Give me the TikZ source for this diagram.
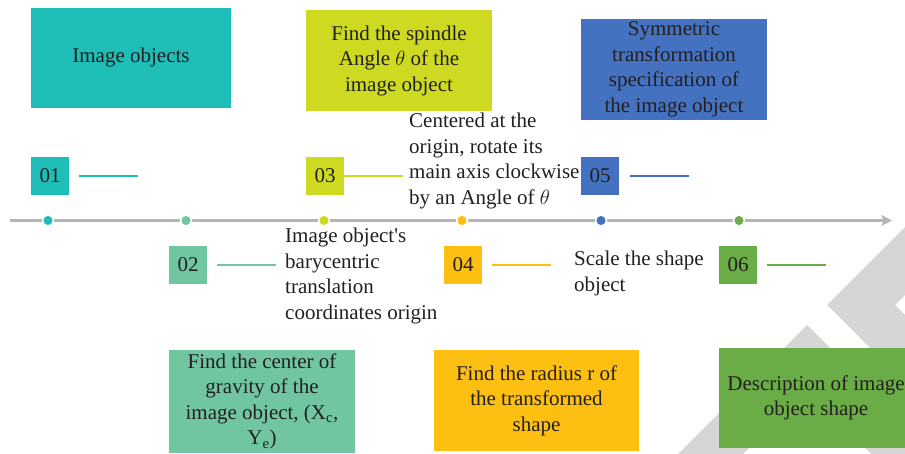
\documentclass[tikz,border=0pt]{standalone}
\usepackage{fontspec}
\setmainfont{Liberation Serif}
\usepackage{tikz}
\usetikzlibrary{arrows.meta}

\definecolor{cOne}{RGB}{31,189,183}
\definecolor{cTwo}{RGB}{113,198,162}
\definecolor{cThree}{RGB}{206,218,34}
\definecolor{cFour}{RGB}{252,191,18}
\definecolor{cFive}{RGB}{68,114,192}
\definecolor{cSix}{RGB}{106,172,70}
\definecolor{inkgray}{RGB}{35,31,32}
\definecolor{linegray}{RGB}{181,181,181}
\definecolor{chevgray}{RGB}{214,214,214}

\tikzset{
  bigbox/.style={rectangle, inner sep=2pt, align=center, text=inkgray,
    font=\fontsize{21}{25.5}\selectfont},
  numbox/.style={rectangle, minimum width=38pt, minimum height=38pt,
    inner sep=0pt, text=inkgray, font=\fontsize{21}{25.5}\selectfont},
  note/.style={anchor=north west, align=left, inner sep=0pt, text=inkgray,
    font=\fontsize{21}{25.5}\selectfont},
  leader/.style={line width=1.6pt},
}

\begin{document}
\begin{tikzpicture}[x=1pt,y=-1pt]
  \useasboundingbox (0,0) rectangle (905,453);
  \clip (0,0) rectangle (905,453);

  % background chevrons
  \fill[chevgray] (960,172) -- (827,305) -- (960,438) -- (960,370) -- (895,305) -- (960,240) -- cycle;
  \fill[chevgray] (670,462) -- (807,325) -- (944,462) -- (879,462) -- (807,390) -- (735,462) -- cycle;

  % time line
  \coordinate (start) at (10,220.5);
  \coordinate (end) at (892,220.5);
  \draw[line width=2.7pt, linegray, -{Stealth[length=11pt,width=11pt,inset=3pt]}] (start) -- (end);

  \coordinate (d1) at (48,220.5);
  \coordinate (d2) at (186,220.5);
  \coordinate (d3) at (324,220.5);
  \coordinate (d4) at (462,220.5);
  \coordinate (d5) at (601,220.5);
  \coordinate (d6) at (739,220.5);

  % upper row
  \node[bigbox, fill=cOne, minimum width=200pt, minimum height=100pt] (b1) at (131,57.5) {Image objects};
  \node[bigbox, fill=cThree, minimum width=186pt, minimum height=101pt] (b3) at (399,60.5)
    {Find the spindle\\ Angle $\theta$ of the\\ image object};
  \node[bigbox, fill=cFive, minimum width=186pt, minimum height=101pt] (b5) at (674,69.5)
    {Symmetric\\ transformation\\ specification of\\ the image object};

  % lower row
  \node[bigbox, fill=cTwo, minimum width=186pt, minimum height=103pt] (b2) at (262,401.5)
    {Find the center of\\ gravity of the\\ image object, (X\textsubscript{c},\\ Y\textsubscript{e})};
  \node[bigbox, fill=cFour, minimum width=205pt, minimum height=101pt] (b4) at (536.5,400.5)
    {Find the radius r of\\ the transformed\\ shape};
  \node[bigbox, fill=cSix, minimum width=194pt, minimum height=100pt] (b6) at (816,398)
    {Description of image\\ object shape};

  % step numbers
  \node[numbox, fill=cOne] (n1) at (50,176) {01};
  \node[numbox, fill=cThree] (n3) at (325,176) {03};
  \node[numbox, fill=cFive] (n5) at (600,176) {05};
  \node[numbox, fill=cTwo] (n2) at (188,265) {02};
  \node[numbox, fill=cFour] (n4) at (463,265) {04};
  \node[numbox, fill=cSix] (n6) at (738,265) {06};

  \coordinate (l1) at (138,176);
  \coordinate (l3) at (403,176);
  \coordinate (l5) at (689,176);
  \coordinate (l2) at (276,265);
  \coordinate (l4) at (551,265);
  \coordinate (l6) at (826,265);

  \draw[leader, cOne] ([xshift=10pt]n1.east) -- (l1);
  \draw[leader, cThree] (n3.east) -- (l3);
  \draw[leader, cFive] ([xshift=11pt]n5.east) -- (l5);
  \draw[leader, cTwo] ([xshift=10pt]n2.east) -- (l2);
  \draw[leader, cFour] ([xshift=10pt]n4.east) -- (l4);
  \draw[leader, cSix] ([xshift=10pt]n6.east) -- (l6);

  % step notes
  \node[note] (t3) at (409,113) {Centered at the\\ origin, rotate its\\ main axis clockwise\\ by an Angle of $\theta$};
  \node[note] (t2) at (285,228) {Image object\textquotesingle s\\ barycentric\\ translation\\ coordinates origin};
  \node[note] (t4) at (574,251) {Scale the shape\\ object};

  \foreach \i/\c in {1/cOne,2/cTwo,3/cThree,4/cFour,5/cFive,6/cSix} {
    \fill[\c, draw=white, line width=1.5pt] (d\i) circle (5.5pt);
  }
\end{tikzpicture}
\end{document}
